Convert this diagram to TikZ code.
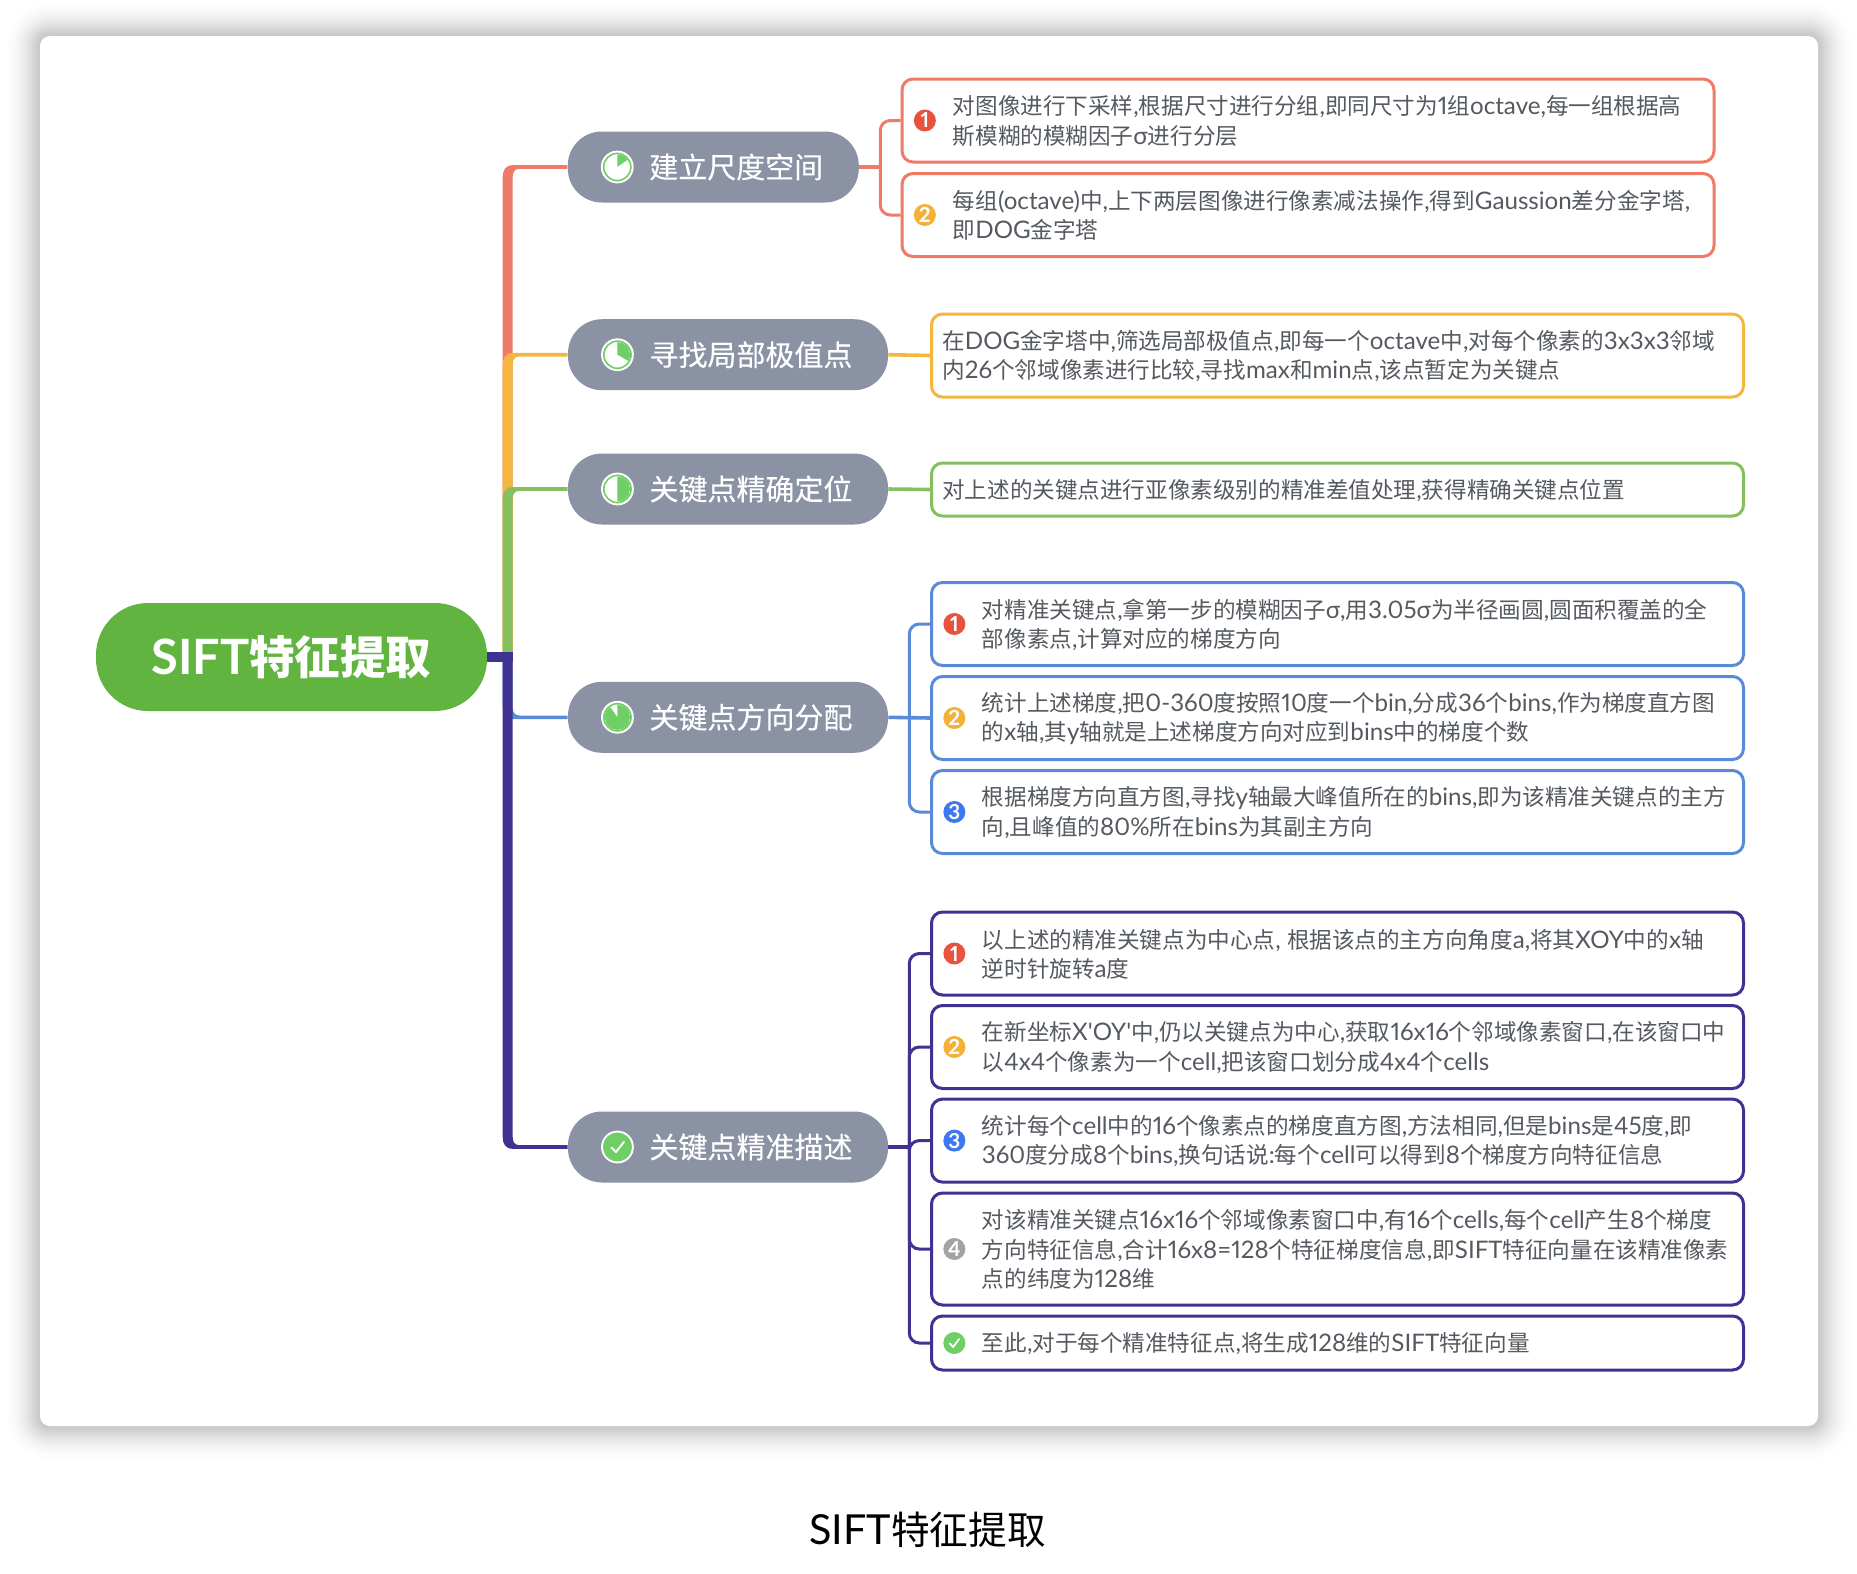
\documentclass[tikz,border=0pt]{standalone}
\usepackage{fontspec}
\setmainfont[Numbers=Proportional,Scale=1.07]{Lato}
\newfontfamily\plainfont[Scale=1.07]{Lato}
\newfontfamily\cjkfam{Noto Sans CJK SC}
\newfontfamily\medfont[FakeBold=0.35]{Noto Sans CJK SC}
\usetikzlibrary{positioning,calc}

% han characters switch to the cjk family by themselves
\newXeTeXintercharclass\hanclass
\count255="4E00
\loop\XeTeXcharclass\count255=\hanclass \ifnum\count255<"9FFF \advance\count255 by 1 \repeat
\XeTeXinterchartoks 0 \hanclass={\begingroup\cjkfam}
\XeTeXinterchartoks 4095 \hanclass={\begingroup\cjkfam}
\XeTeXinterchartoks \hanclass 0 ={\endgroup}
\XeTeXinterchartoks \hanclass 4095 ={\endgroup}
\def\mixfont{\XeTeXinterchartokenstate=1 }

% one reference pixel
\def\px{0.02cm}
\definecolor{cred}{HTML}{EE7A67}
\definecolor{cyellow}{HTML}{F4B63F}
\definecolor{cgreen}{HTML}{86BF5E}
\definecolor{cblue}{HTML}{5B8BD8}
\definecolor{cpurple}{HTML}{3F3290}
\definecolor{crootfill}{HTML}{62B440}
\definecolor{cpill}{HTML}{8A92A3}
\definecolor{ctick}{HTML}{70CE66}
\definecolor{cnote}{HTML}{555A60}
\definecolor{bred}{HTML}{E7533F}
\definecolor{byellow}{HTML}{F4B13A}
\definecolor{bblue}{HTML}{3E78F0}
\definecolor{bgray}{HTML}{A3A3A3}

\begin{document}
\begin{tikzpicture}[
    x=0.02cm, y=-0.02cm,
    rootnode/.style={fill=crootfill, text=white, rounded corners=52*\px, minimum width=391*\px, minimum height=108*\px, font=\mixfont\fontsize{25.9}{30}\selectfont\bfseries},
    pill/.style={fill=cpill, rounded corners=34*\px, minimum height=71*\px},
    pilltext/.style={text=white, inner sep=0pt, font=\medfont\fontsize{16.5}{20}\selectfont},
    detail/.style={draw=#1, fill=white, line width=3*\px, rounded corners=11*\px},
    note/.style={text=cnote, inner sep=0pt, align=left, yshift=-0.6*\px, font=\mixfont\fontsize{12.85}{16.7}\selectfont},
    badge/.style={circle, fill=#1, text=white, inner sep=0pt, minimum size=22*\px, font=\fontsize{11}{11}\selectfont\bfseries},
    twig/.style={line width=3*\px, rounded corners=10*\px},
    stem/.style={line width=3.6*\px},
    % tapered limb of the trunk, #1 = -1 goes up the page, 1 goes down
    limb/.style={to path={let \p1=(\tikztostart),\p2=(\tikztotarget) in
        (\x1-5*\px,\y1) -- (\x1-5*\px,\y2+#1*10*\px)
        .. controls (\x1-5*\px,\y2+#1*3*\px) and (\x1-2*\px,\y2-#1*1.8*\px) .. (\x1+5*\px,\y2-#1*1.8*\px)
        -- (\x2,\y2-#1*1.8*\px) -- (\x2,\y2+#1*1.8*\px) -- (\x1+12*\px,\y2+#1*1.8*\px)
        .. controls (\x1+7*\px,\y2+#1*1.8*\px) and (\x1+5*\px,\y2+#1*5*\px) .. (\x1+5*\px,\y2+#1*10*\px)
        -- (\x1+5*\px,\y1) -- cycle}},
    pics/taskicon/.style={code={
        \fill[white] (0,0) circle[radius=16.4*\px];
        \draw[ctick, line width=1.6*\px] (0,0) circle[radius=13.6*\px];
        \fill[ctick] (0,0) -- (0,-12.6) arc[start angle=90, end angle=90-#1, radius=12.6*\px] -- cycle;
    }},
    pics/doneicon/.style={code={
        \fill[white] (0,0) circle[radius=16.4*\px];
        \fill[ctick] (0,0) circle[radius=14.4*\px];
        \draw[white, line width=2*\px, line cap=round, line join=round] (-6,0.5) -- (-1.5,5) -- (6.5,-5);
    }},
    pics/donebadge/.style={code={
        \draw[white, line width=1.8*\px, line cap=round, line join=round] (-4.5,0.5) -- (-1.2,4) -- (4.8,-4);
    }}
]
\useasboundingbox (0,0) rectangle (1857,1573);

% card and its shadow
\foreach \r in {2,4,...,36} {
    \pgfmathsetmacro\op{0.024*(1-\r/38)}
    \fill[black, opacity=\op, rounded corners=(10+\r)*\px] (40-\r,36-\r) rectangle (1818+\r,1426+\r);
}
\fill[white, rounded corners=10*\px] (40,36) rectangle (1818,1426);

\node[rootnode] (root) at (291.5,657) {SIFT特征提取};
\coordinate (hub) at (507.7,657);

% main topics
\node[pill, minimum width=291*\px] (scale) at (713.3,167) {};
\node[pill, minimum width=320*\px] (extrema) at (728,354.7) {};
\node[pill, minimum width=320*\px] (locate) at (728,489) {};
\node[pill, minimum width=320*\px] (orient) at (728,717.3) {};
\node[pill, minimum width=320*\px] (descr) at (728,1147) {};

\node[pilltext, right=81.5*\px of scale.west] (scalet) {建立尺度空间};
\node[pilltext, right=81.5*\px of extrema.west] (extremat) {寻找局部极值点};
\node[pilltext, right=81.5*\px of locate.west] (locatet) {关键点精确定位};
\node[pilltext, right=81.5*\px of orient.west] (orientt) {关键点方向分配};
\node[pilltext, right=81.5*\px of descr.west] (descrt) {关键点精准描述};

\pic at ($(scale.west)+(49.8,0)$) {taskicon=55};
\pic at ($(extrema.west)+(49.8,0)$) {taskicon=120};
\pic at ($(locate.west)+(49.8,0)$) {taskicon=180};
\pic at ($(orient.west)+(49.8,0)$) {taskicon=325};
\pic at ($(descr.west)+(49.8,0)$) {doneicon};

% detail boxes
\node[detail=cred, minimum width=812*\px, minimum height=83*\px] (a1) at (1308,120.5) {};
\node[detail=cred, minimum width=812*\px, minimum height=83*\px] (a2) at (1308,215) {};
\node[detail=cyellow, minimum width=812*\px, minimum height=83*\px] (b1) at (1337.5,355.5) {};
\node[detail=cgreen, minimum width=812*\px, minimum height=53*\px] (c1) at (1337.5,489.5) {};
\node[detail=cblue, minimum width=812*\px, minimum height=83*\px] (d1) at (1337.5,624) {};
\node[detail=cblue, minimum width=812*\px, minimum height=83*\px] (d2) at (1337.5,718) {};
\node[detail=cblue, minimum width=812*\px, minimum height=83*\px] (d3) at (1337.5,812) {};
\node[detail=cpurple, minimum width=812*\px, minimum height=83*\px] (e1) at (1337.5,953.5) {};
\node[detail=cpurple, minimum width=812*\px, minimum height=83*\px] (e2) at (1337.5,1047) {};
\node[detail=cpurple, minimum width=812*\px, minimum height=83*\px] (e3) at (1337.5,1140.6) {};
\node[detail=cpurple, minimum width=812*\px, minimum height=112*\px] (e4) at (1337.5,1249) {};
\node[detail=cpurple, minimum width=812*\px, minimum height=54*\px] (e5) at (1337.5,1343) {};

% badges
\node[badge=bred, right=13*\px of a1.west] (a1i) {1};
\node[badge=byellow, right=13*\px of a2.west] (a2i) {2};
\node[badge=bred, right=13*\px of d1.west] (d1i) {1};
\node[badge=byellow, right=13*\px of d2.west] (d2i) {2};
\node[badge=bblue, right=13*\px of d3.west] (d3i) {3};
\node[badge=bred, right=13*\px of e1.west] (e1i) {1};
\node[badge=byellow, right=13*\px of e2.west] (e2i) {2};
\node[badge=bblue, right=13*\px of e3.west] (e3i) {3};
\node[badge=bgray, right=13*\px of e4.west] (e4i) {4};
\node[badge=ctick, right=13*\px of e5.west] (e5i) {};
\pic at (e5i) {donebadge};

% texts of the boxes
\node[note, right=52*\px of a1.west] (a1t) {对图像进行下采样,根据尺寸进行分组,即同尺寸为1组octave,每一组根据高\\斯模糊的模糊因子σ进行分层};
\node[note, right=52*\px of a2.west] (a2t) {每组(octave)中,上下两层图像进行像素减法操作,得到Gaussion差分金字塔,\\即DOG金字塔};
\node[note, right=12*\px of b1.west] (b1t) {在DOG金字塔中,筛选局部极值点,即每一个octave中,对每个像素的3x3x3邻域\\内26个邻域像素进行比较,寻找max和min点,该点暂定为关键点};
\node[note, right=12*\px of c1.west] (c1t) {对上述的关键点进行亚像素级别的精准差值处理,获得精确关键点位置};
\node[note, right=51.5*\px of d1.west] (d1t) {对精准关键点,拿第一步的模糊因子σ,用3.05σ为半径画圆,圆面积覆盖的全\\部像素点,计算对应的梯度方向};
\node[note, right=51.5*\px of d2.west] (d2t) {统计上述梯度,把0-360度按照10度一个bin,分成36个bins,作为梯度直方图\\的x轴,其y轴就是上述梯度方向对应到bins中的梯度个数};
\node[note, right=51.5*\px of d3.west] (d3t) {根据梯度方向直方图,寻找y轴最大峰值所在的bins,即为该精准关键点的主方\\向,且峰值的80\%所在bins为其副主方向};
\node[note, right=51.5*\px of e1.west] (e1t) {以上述的精准关键点为中心点, 根据该点的主方向角度a,将其XOY中的x轴\\逆时针旋转a度};
\node[note, right=51.5*\px of e2.west] (e2t) {在新坐标{\plainfont X'OY'}中,仍以关键点为中心,获取16x16个邻域像素窗口,在该窗口中\\以4x4个像素为一个cell,把该窗口划分成4x4个cells};
\node[note, right=51.5*\px of e3.west] (e3t) {统计每个cell中的16个像素点的梯度直方图,方法相同,但是bins是45度,即\\360度分成8个bins,换句话说:每个cell可以得到8个梯度方向特征信息};
\node[note, right=51.5*\px of e4.west] (e4t) {对该精准关键点16x16个邻域像素窗口中,有16个cells,每个cell产生8个梯度\\方向特征信息,合计16x8=128个特征梯度信息,即SIFT特征向量在该精准像素\\点的纬度为128维};
\node[note, right=51.5*\px of e5.west] (e5t) {至此,对于每个精准特征点,将生成128维的SIFT特征向量};

% trunk
\fill[cred] (hub) to[limb=-1] (scale.west);
\fill[cyellow] (hub) to[limb=-1] (extrema.west);
\fill[cgreen] (hub) to[limb=-1] (locate.west);
\fill[cblue] (hub) to[limb=1] (orient.west);
\fill[cpurple] (hub) to[limb=1] (descr.west);
\draw[cpurple, line width=10*\px] (root.east) -- ($(hub)+(5,0)$);

% connectors to the boxes
\coordinate (spinea) at (880.3,167);
\coordinate (spined) at (909.3,717.3);
\coordinate (spinee) at (909.3,1147);
\draw[stem, cred] (scale.east) -- (spinea);
\draw[twig, cred] (spinea) |- (a1.west);
\draw[twig, cred] (spinea) |- (a2.west);
\draw[stem, cyellow] (extrema.east) -- (b1.west);
\draw[stem, cgreen] (locate.east) -- (c1.west);
\draw[stem, cblue] (orient.east) -- (d2.west);
\draw[twig, cblue] (spined) |- (d1.west);
\draw[twig, cblue] (spined) |- (d3.west);
\draw[stem, cpurple] (descr.east) -- (spinee);
\draw[twig, cpurple] (spinee) |- (e1.west);
\draw[twig, cpurple] (spinee) |- (e2.west);
\draw[twig, cpurple] (spinee) |- (e3.west);
\draw[twig, cpurple] (spinee) |- (e4.west);
\draw[twig, cpurple] (spinee) |- (e5.west);

\node[font=\mixfont\fontsize{22}{26}\selectfont] (caption) at (927.7,1530) {SIFT特征提取};
\end{tikzpicture}
\end{document}
